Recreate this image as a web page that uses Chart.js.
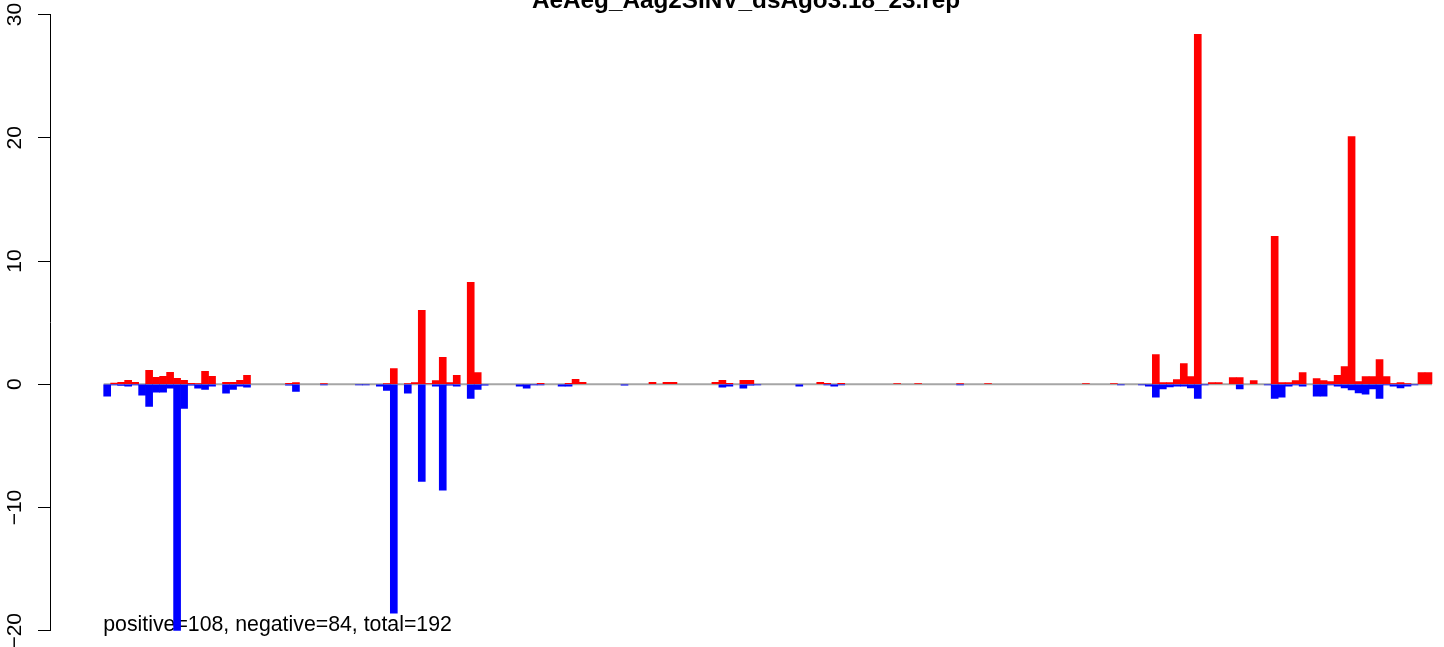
<!DOCTYPE html>
<html>
<head>
<meta charset="utf-8">
<script src="https://cdn.jsdelivr.net/npm/chart.js@4/dist/chart.umd.min.js"></script>
<style>
  html, body { margin: 0; padding: 0; background: #ffffff; }
  canvas { display: block; }
</style>
</head>
<body>
<canvas id="c" width="1444" height="647"></canvas>
<script>
const chartTitle = "AeAeg_Aag2SINV_dsAgo3.18_23.rep";
const summaryText = "positive=108, negative=84, total=192";
const yTickValues = [-20, -10, 0, 10, 20, 30];

const positive = [
  0, 0.1, 0.16, 0.33, 0.16, 0, 1.14, 0.57, 0.65, 0.97,
  0.49, 0.33, 0.08, 0.05, 1.06, 0.65, 0, 0.16, 0.16, 0.33,
  0.73, 0, 0, 0, 0, 0, 0.08, 0.14, 0, 0,
  0, 0.05, 0, 0, 0, 0, 0, 0, 0, 0,
  0.05, 1.27, 0, 0.05, 0.14, 6.0, 0.05, 0.3, 2.19, 0.14,
  0.73, 0, 8.28, 0.95, 0, 0, 0, 0, 0, 0,
  0, 0, 0.08, 0, 0, 0, 0.08, 0.41, 0.16, 0,
  0, 0, 0, 0, 0, 0, 0, 0, 0.16, 0,
  0.16, 0.16, 0, 0, 0, 0, 0, 0.16, 0.33, 0.08,
  0, 0.33, 0.33, 0, 0, 0, 0, 0, 0, 0,
  0, 0, 0.16, 0.08, 0, 0.08, 0, 0, 0, 0,
  0, 0, 0, 0.05, 0, 0, 0.05, 0, 0, 0,
  0, 0, 0.05, 0, 0, 0, 0.05, 0, 0, 0,
  0, 0, 0, 0, 0, 0, 0, 0, 0, 0,
  0.05, 0, 0, 0, 0.05, 0, 0, 0, 0, 0,
  2.41, 0.14, 0.14, 0.38, 1.68, 0.62, 28.4, 0, 0.14, 0.14,
  0, 0.54, 0.54, 0, 0.3, 0, 0, 12.0, 0.14, 0.14,
  0.3, 0.95, 0, 0.46, 0.3, 0.22, 0.73, 1.43, 20.1, 0.22,
  0.62, 0.62, 2.0, 0.62, 0.05, 0.14, 0.05, 0, 0.95, 0.95
];

const negative = [
  -0.97, -0.05, -0.1, -0.16, -0.05, -0.89, -1.79, -0.65, -0.65, -0.32,
  -20.1, -1.95, -0.08, -0.32, -0.41, -0.16, 0, -0.73, -0.41, -0.16,
  -0.24, 0, 0, 0, 0, 0, -0.08, -0.57, 0, 0,
  0, -0.05, 0, 0, 0, 0, -0.05, -0.05, 0, -0.16,
  -0.49, -18.57, 0, -0.73, 0, -7.88, 0, -0.16, -8.6, -0.08,
  -0.16, 0, -1.14, -0.41, -0.08, 0, 0, 0, 0, -0.16,
  -0.32, -0.05, -0.05, 0, 0, -0.16, -0.16, 0, 0, 0,
  0, 0, 0, 0, -0.08, 0, 0, 0, 0, 0,
  0, 0, 0, 0, 0, 0, 0, 0, -0.24, -0.16,
  0, -0.32, -0.08, -0.05, 0, 0, 0, 0, 0, -0.16,
  0, 0, 0, -0.05, -0.16, -0.05, 0, 0, 0, 0,
  0, 0, 0, 0, 0, 0, 0, 0, 0, 0,
  0, 0, -0.05, 0, 0, 0, 0, 0, 0, 0,
  0, 0, 0, 0, 0, 0, 0, 0, 0, 0,
  0, 0, 0, 0, 0, -0.05, 0, 0, -0.05, -0.16,
  -1.05, -0.38, -0.22, -0.16, -0.16, -0.3, -1.14, -0.05, 0, 0,
  0, 0, -0.38, 0, 0, 0, -0.05, -1.14, -1.05, -0.16,
  -0.05, -0.16, 0, -0.97, -0.97, -0.05, -0.16, -0.3, -0.46, -0.7,
  -0.81, -0.38, -1.14, -0.05, -0.16, -0.3, -0.16, -0.05, 0, 0
];

const bins = positive.map((_, i) => i);

const FONT = '"Liberation Sans", Arial, Helvetica, sans-serif';

const decor = {
  id: 'decor',
  beforeDatasetsDraw(chart) {
    const ctx = chart.ctx;
    const xs = chart.scales.x, ys = chart.scales.y;
    const y0 = ys.getPixelForValue(0);
    ctx.save();
    ctx.strokeStyle = '#a6a6a6';
    ctx.lineWidth = 2;
    ctx.beginPath();
    ctx.moveTo(xs.getPixelForValue(bins[0] - 0.5), y0);
    ctx.lineTo(xs.getPixelForValue(bins[bins.length - 1] + 0.5), y0);
    ctx.stroke();
    ctx.fillStyle = '#000';
    ctx.font = '21.3px ' + FONT;
    ctx.textAlign = 'left';
    ctx.textBaseline = 'alphabetic';
    ctx.fillText(summaryText, xs.getPixelForValue(bins[0] - 0.5) - 0.5, 631);
    ctx.restore();
  },
  afterDraw(chart) {
    const ctx = chart.ctx;
    const ys = chart.scales.y;
    const area = chart.chartArea;
    ctx.save();
    ctx.fillStyle = '#000';
    ctx.font = '21px ' + FONT;
    ctx.textAlign = 'center';
    ctx.textBaseline = 'alphabetic';
    yTickValues.forEach(v => {
      const py = ys.getPixelForValue(v);
      ctx.save();
      ctx.translate(21, py);
      ctx.rotate(-Math.PI / 2);
      ctx.fillText(String(v).replace('-', '\u2212'), 0, 0);
      ctx.restore();
    });
    ctx.font = 'bold 24.3px ' + FONT;
    ctx.textAlign = 'center';
    ctx.fillText(chartTitle, 746, 8);
    ctx.restore();
  }
};

new Chart(document.getElementById('c'), {
  type: 'bar',
  data: {
    datasets: [
      {
        label: 'positive',
        data: bins.map((b, i) => ({ x: b, y: positive[i] === 0 ? null : positive[i] })),
        backgroundColor: '#ff0000',
        borderWidth: 0,
        grouped: false,
        barPercentage: 1,
        categoryPercentage: 1
      },
      {
        label: 'negative',
        data: bins.map((b, i) => ({ x: b, y: negative[i] === 0 ? null : negative[i] })),
        backgroundColor: '#0000ff',
        borderWidth: 0,
        grouped: false,
        barPercentage: 1,
        categoryPercentage: 1
      }
    ]
  },
  options: {
    responsive: false,
    animation: false,
    devicePixelRatio: 1,
    layout: { padding: { left: 0, right: 0, top: 14.5, bottom: 16.2 } },
    plugins: {
      legend: { display: false },
      tooltip: { enabled: false },
      title: { display: false }
    },
    scales: {
      x: {
        type: 'linear',
        min: -8.18,
        max: 191.22,
        display: false,
        offset: false
      },
      y: {
        min: yTickValues[0],
        max: yTickValues[yTickValues.length - 1],
        afterBuildTicks(scale) {
          scale.ticks = yTickValues.map(v => ({ value: v }));
        },
        afterFit(scale) { scale.width = 50; },
        ticks: { display: false },
        grid: {
          drawOnChartArea: false,
          drawTicks: true,
          tickLength: 12,
          color: '#000000',
          lineWidth: 1
        },
        border: { display: true, color: '#000000', width: 1 }
      }
    }
  },
  plugins: [decor]
});
</script>
</body>
</html>
